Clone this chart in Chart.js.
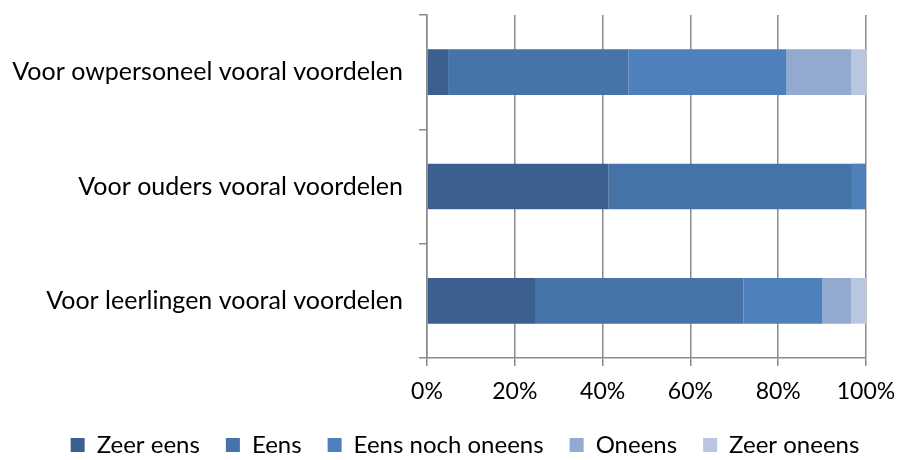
<!DOCTYPE html>
<html>
<head>
<meta charset="utf-8">
<script src="https://cdn.jsdelivr.net/npm/chart.js@4.4.3/dist/chart.umd.min.js"></script>
<style>
  html, body { margin: 0; padding: 0; background: #fff; }
  #wrap { width: 900px; height: 460px; }
</style>
</head>
<body>
<div id="wrap"><canvas id="myChart" width="900" height="460"></canvas></div>
<script>
const categories = ['Voor owpersoneel vooral voordelen', 'Voor ouders vooral voordelen', 'Voor leerlingen vooral voordelen']
const seriesNames = ['Zeer eens', 'Eens', 'Eens noch oneens', 'Oneens', 'Zeer oneens']
const zeerEens = [4.8, 41.3, 24.6]
const eens = [41.1, 55.5, 47.5]
const eensNochOneens = [36.0, 3.2, 18.0]
const oneens = [14.8, 0, 6.5]
const zeerOneens = [3.3, 0, 3.4]
const colors = ['#3b5f8e', '#4673a8', '#4e80bb', '#94a9d0', '#b9c6e1']

const font = "Lato, 'Noto Sans', sans-serif"
const values = [zeerEens, eens, eensNochOneens, oneens, zeerOneens]

const data = {
  labels: categories,
  datasets: seriesNames.map((name, i) => ({
    label: name,
    data: values[i],
    backgroundColor: colors[i],
    borderWidth: 0,
    categoryPercentage: 1,
    barPercentage: 0.4
  }))
}

// nudge the legend to the right, like the original
const legendShift = {
  id: 'legendShift',
  afterLayout(chart) {
    chart.legend.left += 32
    chart.legend.right += 32
  }
}

const config = {
  type: 'bar',
  data: data,
  plugins: [legendShift],
  options: {
    indexAxis: 'y',
    responsive: false,
    animation: false,
    layout: { padding: { top: 15, right: 34, left: 0, bottom: -7 } },
    plugins: {
      tooltip: { enabled: false },
      legend: {
        position: 'bottom',
        labels: {
          font: { family: font, size: 24 },
          color: '#000',
          boxWidth: 14,
          boxHeight: 14,
          padding: 26
        }
      }
    },
    scales: {
      x: {
        stacked: true,
        min: 0,
        max: 100,
        ticks: {
          stepSize: 20,
          callback: (v) => v + '%',
          color: '#000',
          font: { family: font, size: 23 },
          padding: 12
        },
        grid: { color: '#8a8a8a', lineWidth: 1.5, tickLength: 8 },
        border: { color: '#8a8a8a', width: 1.5 },
        afterFit: (s) => { s.height = 49; s.paddingLeft = 0; s.paddingRight = 0 }
      },
      y: {
        stacked: true,
        ticks: {
          color: '#000',
          font: { family: font, size: 25 },
          padding: 16
        },
        grid: { drawOnChartArea: false, color: '#8a8a8a', lineWidth: 1.5, tickLength: 8, offset: true },
        border: { color: '#8a8a8a', width: 1.5 },
        afterFit: (s) => { s.width = 427; s.paddingTop = 0; s.paddingBottom = 0 }
      }
    }
  }
}

new Chart(document.getElementById('myChart'), config)
</script>
</body>
</html>
